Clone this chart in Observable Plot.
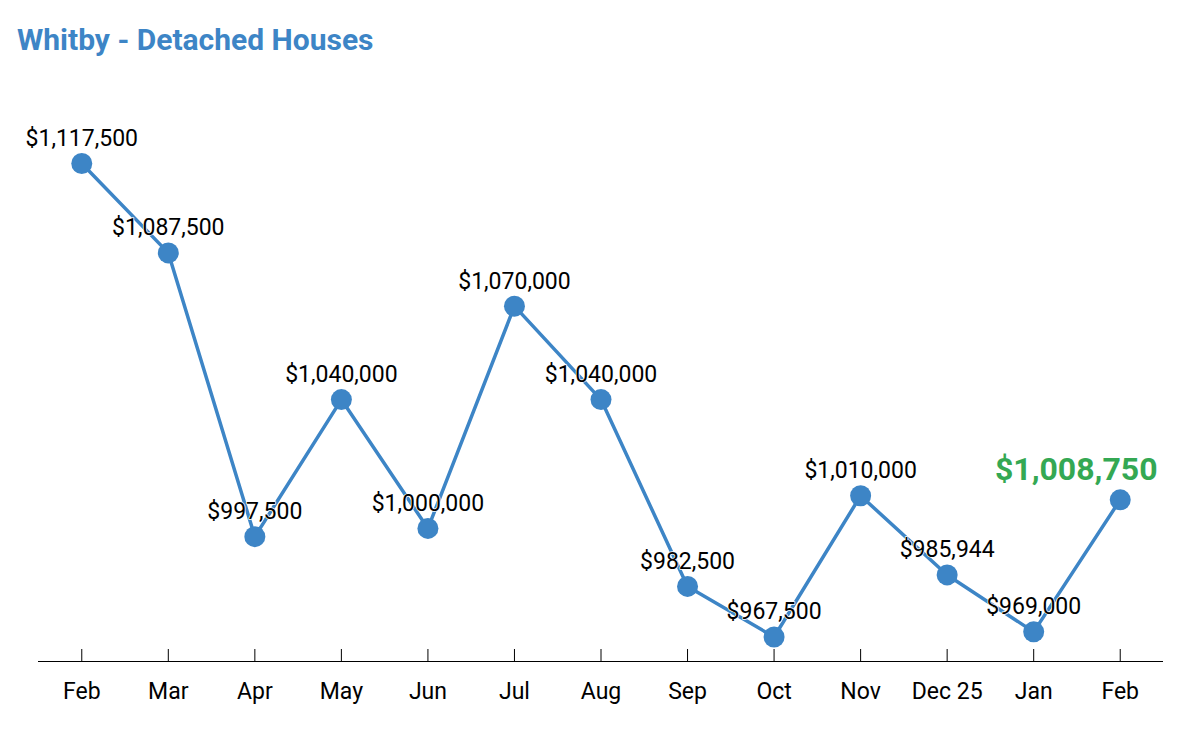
<!DOCTYPE html>
<html>
<head>
<meta charset="utf-8">
<script src="https://cdn.jsdelivr.net/npm/d3@7"></script>
<script src="https://cdn.jsdelivr.net/npm/@observablehq/plot@0.6"></script>
<style>
  body { margin: 0; background: #fff; font-family: Roboto, sans-serif; }
  #title { position: absolute; left: 17px; top: 22px; font: bold 30px Roboto, sans-serif; color: #3d85c6; line-height: normal; }
  #chart { position: absolute; left: 0; top: 80px; }
</style>
</head>
<body>
<div id="title">Whitby - Detached Houses</div>
<div id="chart"></div>
<script>
const months = ["Feb", "Mar", "Apr", "May", "Jun", "Jul", "Aug", "Sep", "Oct", "Nov", "Dec 25", "Jan", "Feb "];
const prices = [1117500, 1087500, 997500, 1040000, 1000000, 1070000, 1040000, 982500, 967500, 1010000, 985944, 969000, 1008750];

const data = months.map((m, i) => ({month: m, price: prices[i], last: i === months.length - 1}));
const fmt = v => "$" + d3.format(",")(v);
const blue = "#3d85c6";

const chart = Plot.plot({
  width: 1201,
  height: 640,
  marginLeft: 38,
  marginRight: 38,
  marginTop: 0,
  marginBottom: 59,
  style: {fontFamily: "Roboto, sans-serif", background: "#fff"},
  x: {type: "point", domain: months, padding: 0.5, round: false, label: null},
  y: {type: "log", domain: [960300, 1117500], range: [581, 83], axis: null},
  marks: [
    Plot.ruleY([960300], {stroke: "#000", strokeWidth: 1}),
    Plot.tickX(months, {x: d => d, insetTop: 569, stroke: "#000", strokeWidth: 1}),
    Plot.axisX({tickSize: 0, tickPadding: 21, fontSize: 23, fill: "#000", tickFormat: d => d.trim()}),
    Plot.line(data, {x: "month", y: "price", stroke: blue, strokeWidth: 3.5}),
    Plot.dot(data, {x: "month", y: "price", r: 10.5, fill: blue, stroke: "none"}),
    Plot.text(data.filter(d => !d.last), {x: "month", y: "price", text: d => fmt(d.price), dy: -25, fontSize: 23, fill: "#000", stroke: "#fff", strokeWidth: 1.5}),
    Plot.text(data.filter(d => d.last), {x: "month", y: "price", text: d => fmt(d.price), dx: -44, dy: -30, fontSize: 32, fontWeight: "bold", fill: "#34a853", stroke: "#fff", strokeWidth: 1.5})
  ]
});
document.getElementById("chart").appendChild(chart);
</script>
</body>
</html>
